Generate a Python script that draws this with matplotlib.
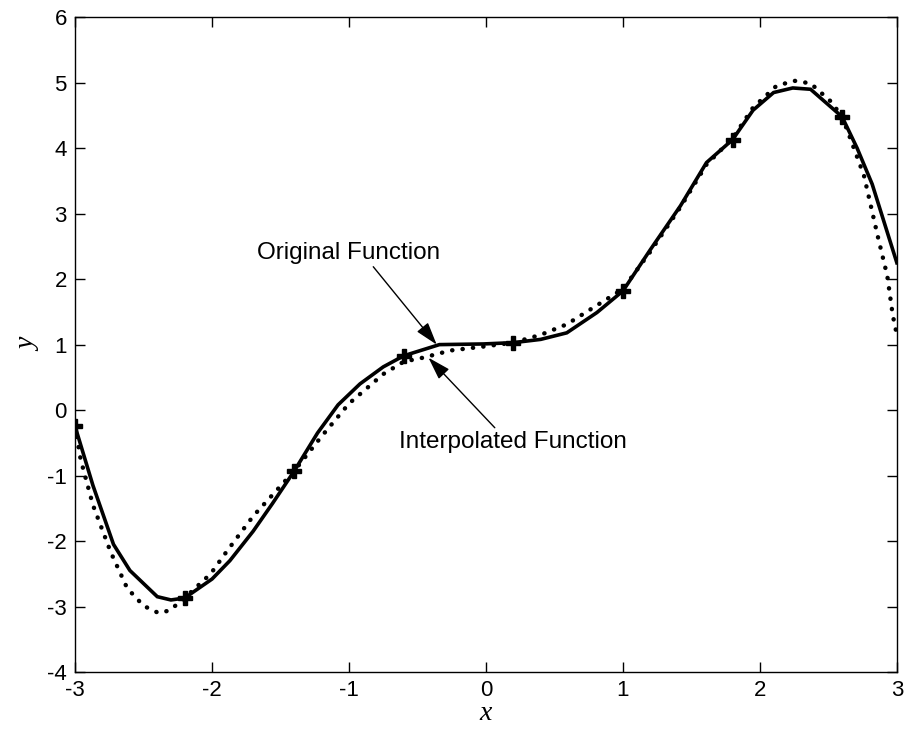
import matplotlib
matplotlib.use('Agg')
import matplotlib.pyplot as plt

plt.rcParams['axes.unicode_minus'] = False

# sample nodes (markers)
node_x = [-3.0, -2.2, -1.4, -0.6, 0.2, 1.0, 1.8, 2.6]
node_y = [-0.25, -2.87, -0.93, 0.83, 1.03, 1.82, 4.13, 4.48]

# original function (solid)
orig_x = [-3.00, -2.87, -2.72, -2.60, -2.40, -2.30, -2.20, -2.00, -1.87, -1.70,
          -1.56, -1.40, -1.23, -1.08, -0.92, -0.75, -0.60, -0.34, -0.02, 0.20,
          0.40, 0.59, 0.81, 1.00, 1.20, 1.42, 1.61, 1.80, 1.95, 2.10,
          2.24, 2.37, 2.60, 2.71, 2.82, 3.00]
orig_y = [-0.25, -1.15, -2.05, -2.45, -2.85, -2.90, -2.87, -2.58, -2.30, -1.85,
          -1.43, -0.93, -0.35, 0.08, 0.40, 0.66, 0.83, 1.00, 1.01, 1.03,
          1.08, 1.18, 1.49, 1.82, 2.45, 3.12, 3.78, 4.13, 4.58, 4.85,
          4.92, 4.90, 4.48, 4.00, 3.45, 2.25]

# interpolated function (dotted)
interp_x = [-3.00, -2.96, -2.87, -2.74, -2.62, -2.50, -2.39, -2.31, -2.20, -2.01,
            -1.89, -1.70, -1.40, -1.20, -1.00, -0.75, -0.60, -0.46, -0.26, -0.02,
            0.20, 0.40, 0.59, 0.81, 1.00, 1.20, 1.42, 1.61, 1.80, 1.95,
            2.12, 2.25, 2.37, 2.52, 2.60, 2.66, 2.76, 2.86, 2.93, 2.97, 3.00]
interp_y = [-0.25, -0.75, -1.45, -2.17, -2.72, -2.99, -3.10, -3.06, -2.87, -2.50,
            -2.15, -1.62, -0.93, -0.40, 0.10, 0.55, 0.74, 0.80, 0.91, 0.97,
            1.03, 1.15, 1.31, 1.60, 1.85, 2.42, 3.10, 3.75, 4.15, 4.62,
            4.95, 5.03, 4.99, 4.71, 4.48, 4.15, 3.58, 2.66, 2.05, 1.45, 1.15]

fig = plt.figure(figsize=(9.05, 7.34), dpi=100)
ax = fig.add_axes([0.083, 0.0845, 0.908, 0.892])

ax.plot(orig_x, orig_y, color='k', lw=2.6, solid_joinstyle='miter')
ax.plot(interp_x, interp_y, color='k', lw=3.2, linestyle=(0, (0.05, 2.3)),
        dash_capstyle='round')
ax.plot(node_x, node_y, linestyle='none', marker='P', color='k', markersize=10)

ax.set_xlim(-3, 3)
ax.set_ylim(-4, 6)
ax.set_xticks(range(-3, 4))
ax.set_yticks(range(-4, 7))
ax.tick_params(direction='in', length=7, width=1, top=True, right=True,
               labelsize=16, pad=6)
for lab in ax.get_xticklabels() + ax.get_yticklabels():
    lab.set_family('Liberation Sans')
for s in ax.spines.values():
    s.set_linewidth(1.0)

ax.set_xlabel('x', family='Liberation Serif', style='italic', fontsize=20, labelpad=0)
ax.set_ylabel('y', family='Liberation Serif', style='italic', fontsize=20, labelpad=4)

arrow = dict(arrowstyle='-|>,head_length=0.8,head_width=0.25', color='k', lw=1,
             shrinkA=0, shrinkB=0)
ax.annotate('Original Function', xy=(-0.36, 1.0), xytext=(-1.0, 2.4),
            ha='center', va='center', fontsize=17.5, family='Liberation Sans',
            arrowprops=dict(arrow, relpos=(0.62, 0.0)))
ax.annotate('Interpolated Function', xy=(-0.42, 0.80), xytext=(0.2, -0.48),
            ha='center', va='center', fontsize=17.5, family='Liberation Sans',
            arrowprops=dict(arrow, relpos=(0.43, 1.0)))

fig.savefig('out.png', dpi=100)
